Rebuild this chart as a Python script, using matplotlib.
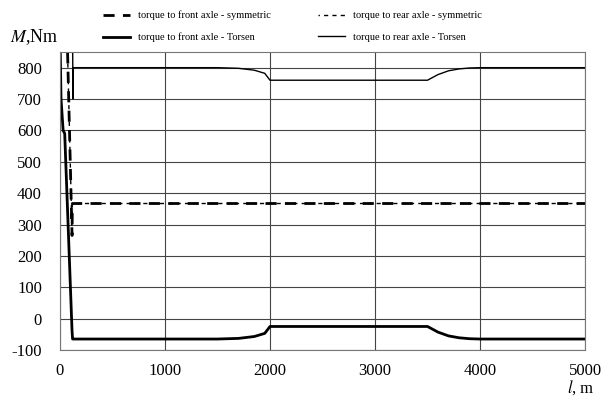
import matplotlib
matplotlib.use("Agg")
import matplotlib.pyplot as plt

plt.rcParams['font.family'] = ['Liberation Serif', 'DejaVu Serif']
plt.rcParams['mathtext.fontset'] = 'stix'
plt.rcParams['axes.unicode_minus'] = False

# distance along the route, m
l_front_sym = [0, 70, 115, 118, 5000]
M_front_sym = [900, 880, 265, 367, 367]
l_rear_sym = [0, 70, 115, 118, 5000]
M_rear_sym = [900, 880, 265, 367, 367]

l_torsen = [0, 10, 30, 45, 115, 120, 124,
            1500, 1700, 1850, 1950, 2000, 3500, 3600, 3700, 3800, 3900, 4000, 5000]
M_front_torsen = [900, 700, 600, 590, -40, -65, -65,
                  -65, -63, -57, -47, -25, -25, -43, -55, -61, -64, -65, -65]

l_rear_torsen = [0, 4, 120, 124, 126,
                 1500, 1700, 1850, 1950, 2000, 3500, 3600, 3700, 3800, 3900, 4000, 5000]
M_rear_torsen = [-120, 900, 900, 700, 800,
                 800, 798, 792, 782, 760, 760, 778, 790, 796, 799, 800, 800]

fig = plt.figure(figsize=(6.01, 4.03), dpi=100)
ax = fig.add_axes([0.0998, 0.1315, 0.8736, 0.7395])

l1, = ax.plot(l_front_sym, M_front_sym, color='black', lw=2.0, ls=(0, (4, 3)),
              label='torque to front axle - symmetric')
l2, = ax.plot(l_torsen, M_front_torsen, color='black', lw=2.0,
              label='torque to front axle - Torsen')
l3, = ax.plot(l_rear_sym, M_rear_sym, color='black', lw=1.0, ls=(2, (3, 3)),
              label='torque to rear axle - symmetric')
l4, = ax.plot(l_rear_torsen, M_rear_torsen, color='black', lw=1.0,
              label='torque to rear axle - Torsen')

ax.set_xlim(0, 5000)
ax.set_ylim(-100, 850)
ax.set_xticks([0, 1000, 2000, 3000, 4000, 5000])
ax.set_yticks(range(-100, 801, 100))
ax.grid(True, color='#444444', lw=0.8)
ax.tick_params(axis='y', length=0, labelsize=12, pad=13)
ax.tick_params(axis='x', length=0, labelsize=12, pad=9)
for s in ax.spines.values():
    s.set_color('#777777')
    s.set_linewidth(0.8)

fig.text(0.017, 0.908, r'$M$,Nm', fontsize=13, ha='left', va='center')
fig.text(0.943, 0.038, r'$l$, m', fontsize=12, ha='left', va='center')

fig.legend(handles=[l1, l2, l3, l4], ncol=2, frameon=False, fontsize=7.5,
           loc='upper left', bbox_to_anchor=(0.155, 0.997), handlelength=2.6,
           columnspacing=4.5, labelspacing=1.2)

fig.savefig('out.png', dpi=100)
